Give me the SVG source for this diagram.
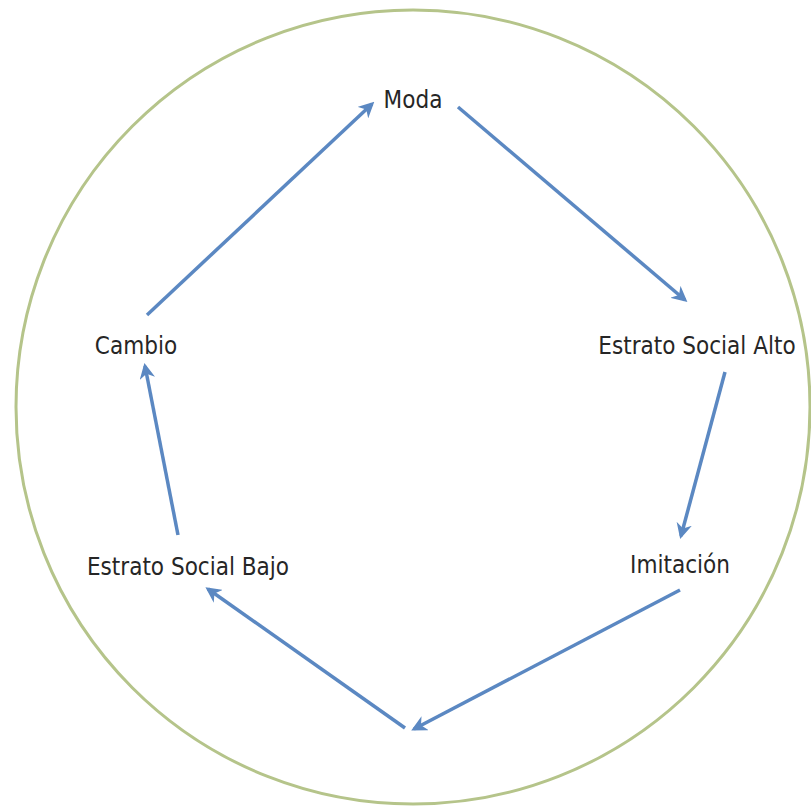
<svg xmlns="http://www.w3.org/2000/svg" width="811" height="808" viewBox="0 0 811 808">
<defs>
<style>
.lbl{font-family:"Liberation Sans Narrow","DejaVu Sans Condensed","Liberation Sans",sans-serif;font-size:24px;fill:#262626;text-anchor:middle}
.arr{stroke:#5b88c2;stroke-width:3.5;fill:none;marker-end:url(#ah)}
</style>
<marker id="ah" viewBox="0 0 10 10" refX="8" refY="5" markerWidth="4.5" markerHeight="4.5" orient="auto" markerUnits="strokeWidth">
<path d="M0,0 L10,5 L0,10 L3,5 Z" fill="#5b88c2"/>
</marker>
</defs>
<rect width="811" height="808" fill="#ffffff"/>
<circle cx="413" cy="407" r="397" fill="none" stroke="#b5c48a" stroke-width="3"/>
<g id="connectors">
<line class="arr" x1="147" y1="315" x2="372" y2="104"/>
<line class="arr" x1="458" y1="107" x2="685" y2="300"/>
<line class="arr" x1="725" y1="372" x2="681" y2="536"/>
<line class="arr" x1="680" y1="590" x2="414" y2="729"/>
<line class="arr" x1="405" y1="728" x2="208" y2="589"/>
<line class="arr" x1="178" y1="535" x2="145" y2="366"/>
</g>
<g id="moda"><text class="lbl" x="413" y="108">Moda</text></g>
<g id="alto"><text class="lbl" x="697" y="354">Estrato Social Alto</text></g>
<g id="imitacion"><text class="lbl" x="680" y="573">Imitación</text></g>
<g id="bajo"><text class="lbl" x="188" y="575">Estrato Social Bajo</text></g>
<g id="cambio"><text class="lbl" x="136" y="354">Cambio</text></g>
</svg>
